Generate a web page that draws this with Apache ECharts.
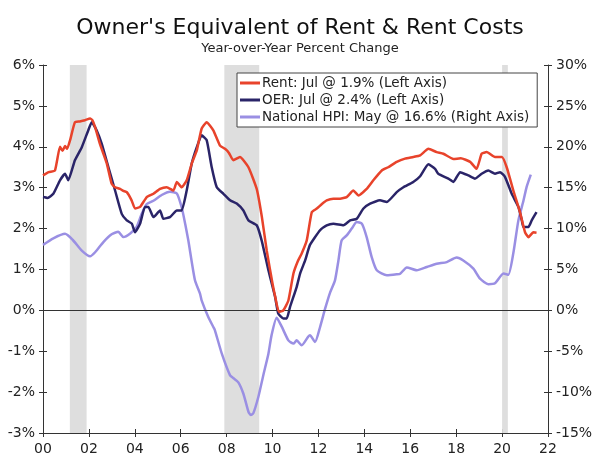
<!DOCTYPE html>
<html>
<head>
<meta charset="utf-8">
<title>Owner's Equivalent of Rent & Rent Costs</title>
<script src="https://cdn.jsdelivr.net/npm/echarts@6/dist/echarts.min.js"></script>
<style>
  html, body { margin: 0; padding: 0; background: #fff; }
  #chart { width: 600px; height: 460px; }
</style>
</head>
<body>
<div id="chart"></div>
<script>
// 数据
var rentDates = [2000.0, 2000.25, 2000.52, 2000.74, 2000.85, 2000.96, 2001.05, 2001.18, 2001.39, 2001.6, 2001.83, 2002.05, 2002.15, 2002.27, 2002.48, 2002.78, 2002.99, 2003.14, 2003.36, 2003.5, 2003.65, 2003.86, 2004.01, 2004.23, 2004.52, 2004.81, 2005.1, 2005.39, 2005.68, 2005.83, 2006.04, 2006.26, 2006.48, 2006.7, 2006.91, 2007.13, 2007.42, 2007.71, 2007.93, 2008.1, 2008.29, 2008.58, 2008.95, 2009.31, 2009.53, 2009.75, 2010.0, 2010.11, 2010.28, 2010.47, 2010.69, 2010.91, 2011.1, 2011.27, 2011.49, 2011.71, 2011.93, 2012.15, 2012.36, 2012.65, 2012.94, 2013.23, 2013.52, 2013.74, 2014.1, 2014.39, 2014.76, 2015.04, 2015.41, 2015.77, 2016.13, 2016.43, 2016.79, 2017.15, 2017.44, 2017.88, 2018.2, 2018.61, 2018.89, 2019.11, 2019.33, 2019.69, 2019.99, 2020.2, 2020.49, 2020.78, 2021.0, 2021.15, 2021.36, 2021.5];
var rentValues = [3.30, 3.38, 3.42, 4.00, 3.90, 4.02, 3.95, 4.16, 4.60, 4.62, 4.65, 4.69, 4.65, 4.48, 4.07, 3.59, 3.10, 3.01, 2.97, 2.92, 2.89, 2.69, 2.49, 2.53, 2.77, 2.85, 2.97, 3.01, 2.93, 3.14, 3.01, 3.18, 3.59, 3.91, 4.44, 4.60, 4.40, 4.03, 3.95, 3.85, 3.67, 3.75, 3.50, 2.97, 2.30, 1.45, 0.65, 0.35, -0.04, 0.00, 0.24, 0.90, 1.20, 1.39, 1.71, 2.40, 2.49, 2.60, 2.69, 2.73, 2.73, 2.77, 2.93, 2.81, 2.97, 3.18, 3.42, 3.50, 3.63, 3.71, 3.75, 3.79, 3.95, 3.87, 3.83, 3.70, 3.72, 3.63, 3.46, 3.83, 3.87, 3.75, 3.75, 3.50, 2.93, 2.40, 1.91, 1.79, 1.91, 1.90];

var oerDates = [2000.0, 2000.2, 2000.45, 2000.74, 2000.96, 2001.1, 2001.39, 2001.69, 2001.97, 2002.12, 2002.34, 2002.56, 2002.85, 2003.14, 2003.43, 2003.65, 2003.87, 2004.01, 2004.23, 2004.44, 2004.59, 2004.81, 2005.1, 2005.24, 2005.53, 2005.83, 2006.04, 2006.26, 2006.48, 2006.7, 2006.91, 2007.13, 2007.35, 2007.57, 2007.86, 2008.15, 2008.44, 2008.73, 2008.95, 2009.31, 2009.53, 2009.82, 2010.11, 2010.25, 2010.47, 2010.62, 2010.76, 2011.05, 2011.2, 2011.42, 2011.63, 2012.07, 2012.36, 2012.65, 2013.09, 2013.38, 2013.67, 2013.96, 2014.25, 2014.68, 2014.98, 2015.41, 2015.7, 2016.13, 2016.43, 2016.79, 2017.08, 2017.22, 2017.66, 2017.88, 2018.17, 2018.53, 2018.82, 2019.11, 2019.4, 2019.69, 2019.91, 2020.13, 2020.42, 2020.71, 2020.86, 2020.93, 2021.15, 2021.29, 2021.5];
var oerValues = [2.77, 2.75, 2.85, 3.18, 3.34, 3.18, 3.67, 3.99, 4.40, 4.60, 4.40, 4.07, 3.50, 2.93, 2.36, 2.20, 2.12, 1.91, 2.12, 2.53, 2.53, 2.28, 2.44, 2.24, 2.28, 2.44, 2.44, 2.93, 3.59, 3.99, 4.28, 4.16, 3.50, 3.01, 2.85, 2.69, 2.61, 2.44, 2.20, 2.08, 1.70, 0.98, 0.33, -0.08, -0.20, -0.20, 0.08, 0.57, 0.90, 1.22, 1.60, 1.96, 2.08, 2.12, 2.08, 2.20, 2.24, 2.49, 2.61, 2.69, 2.65, 2.89, 3.01, 3.14, 3.28, 3.57, 3.46, 3.34, 3.22, 3.14, 3.38, 3.30, 3.22, 3.34, 3.42, 3.34, 3.38, 3.26, 2.85, 2.53, 2.20, 2.04, 2.04, 2.20, 2.40];

var hpiDates = [2000.0, 2000.45, 2000.96, 2001.3, 2001.69, 2002.05, 2002.27, 2002.63, 2002.99, 2003.28, 2003.5, 2003.8, 2004.08, 2004.3, 2004.52, 2004.81, 2005.17, 2005.53, 2005.83, 2006.04, 2006.2, 2006.33, 2006.62, 2006.84, 2006.91, 2007.2, 2007.42, 2007.49, 2007.79, 2008.15, 2008.3, 2008.51, 2008.73, 2008.95, 2009.05, 2009.16, 2009.38, 2009.6, 2009.82, 2009.96, 2010.18, 2010.4, 2010.69, 2010.91, 2011.05, 2011.27, 2011.56, 2011.63, 2011.85, 2012.07, 2012.29, 2012.51, 2012.72, 2012.87, 2013.01, 2013.23, 2013.45, 2013.67, 2013.89, 2014.1, 2014.32, 2014.54, 2014.98, 2015.41, 2015.56, 2015.85, 2016.28, 2016.72, 2017.15, 2017.59, 2018.02, 2018.31, 2018.75, 2019.04, 2019.4, 2019.69, 2020.06, 2020.27, 2020.49, 2020.71, 2020.93, 2021.07, 2021.25];
var hpiValues = [8.0, 8.8, 9.35, 8.6, 7.3, 6.6, 7.1, 8.35, 9.3, 9.6, 8.96, 9.4, 10.2, 11.8, 13.0, 13.4, 14.1, 14.5, 14.3, 12.6, 10.5, 8.56, 3.67, 2.04, 1.22, -0.82, -2.04, -2.44, -5.3, -7.95, -8.3, -8.8, -10.2, -12.4, -12.8, -12.6, -10.6, -7.9, -5.3, -3.0, -0.9, -2.0, -3.67, -4.07, -3.67, -4.28, -3.2, -3.06, -3.87, -2.04, 0.2, 2.2, 3.67, 6.1, 8.56, 9.17, 10.0, 10.8, 10.6, 8.96, 6.5, 4.9, 4.28, 4.4, 4.48, 5.25, 4.9, 5.3, 5.7, 5.9, 6.45, 6.1, 5.1, 3.87, 3.2, 3.3, 4.5, 4.35, 7.0, 11.0, 13.4, 15.1, 16.6];

// 衰退期阴影
var recessions = [[2001.17, 2001.9], [2007.9, 2009.42], [2020.0, 2020.25]];

var seriesNames = ['Rent: Jul @ 1.9% (Left Axis)', 'OER: Jul @ 2.4% (Left Axis)', 'National HPI: May @ 16.6% (Right Axis)'];

var font = 'DejaVu Sans, Verdana, sans-serif';
var ink = '#222';

function pairs(xs, ys) {
  return xs.map(function (x, i) { return [x, ys[i]]; });
}

var chart = echarts.init(document.getElementById('chart'));

// 坐标轴刻度穿过轴线：外侧一组、内侧一组
function yAxisOf(pos, min, max, step, inside) {
  return {
    type: 'value',
    position: pos,
    min: min,
    max: max,
    interval: step,
    splitLine: { show: false },
    axisLine: { show: !inside, lineStyle: { color: '#333', width: 1 } },
    axisTick: { show: true, inside: inside, length: 4, lineStyle: { color: '#333' } },
    axisLabel: {
      show: !inside,
      margin: 8,
      color: ink,
      fontFamily: font,
      fontSize: 14,
      formatter: '{value}%'
    }
  };
}

function xAxisOf(inside) {
  return {
    type: 'value',
    min: 2000,
    max: 2022,
    interval: 2,
    position: 'bottom',
    splitLine: { show: false },
    axisLine: { show: !inside, onZero: false, lineStyle: { color: '#333', width: 1 } },
    axisTick: { show: true, inside: inside, length: 4, lineStyle: { color: '#333' } },
    axisLabel: {
      show: !inside,
      margin: 9,
      color: ink,
      fontFamily: font,
      fontSize: 14,
      formatter: function (v) { return String(v % 100).padStart(2, '0'); }
    }
  };
}

var option = {
  animation: false,
  backgroundColor: '#fff',
  title: {
    text: "Owner's Equivalent of Rent & Rent Costs",
    subtext: 'Year-over-Year Percent Change',
    left: 'center',
    top: 12,
    itemGap: 3,
    textStyle: { fontFamily: font, fontSize: 22, fontWeight: 'normal', color: '#111' },
    subtextStyle: { fontFamily: font, fontSize: 13, color: ink }
  },
  legend: {
    data: seriesNames,
    orient: 'vertical',
    left: 237,
    top: 73,
    padding: [3, 8, 3, 3],
    itemGap: 3,
    itemWidth: 20,
    itemHeight: 3,
    icon: 'rect',
    backgroundColor: '#fff',
    borderColor: '#444',
    borderWidth: 1,
    borderRadius: 0,
    textStyle: { fontFamily: font, fontSize: 13.5, color: ink, padding: [0, 0, 0, -3] }
  },
  grid: { left: 43, right: 52, top: 65, bottom: 27 },
  xAxis: [xAxisOf(false), xAxisOf(true)],
  yAxis: [
    yAxisOf('left', -3, 6, 1, false),
    yAxisOf('right', -15, 30, 5, false),
    yAxisOf('left', -3, 6, 1, true),
    yAxisOf('right', -15, 30, 5, true)
  ],
  series: [
    {
      type: 'line',
      name: 'recession',
      data: [],
      z: 1,
      silent: true,
      markArea: {
        silent: true,
        itemStyle: { color: '#dedede' },
        data: recessions.map(function (r) { return [{ xAxis: r[0] }, { xAxis: r[1] }]; })
      },
      markLine: {
        silent: true,
        symbol: 'none',
        label: { show: false },
        lineStyle: { color: '#333', width: 1, type: 'solid' },
        data: [{ yAxis: 0 }]
      }
    },
    {
      type: 'line',
      name: seriesNames[2],
      yAxisIndex: 1,
      data: pairs(hpiDates, hpiValues),
      showSymbol: false,
      smooth: 0.2,
      z: 3,
      lineStyle: { color: '#9a8fe3', width: 2.5 },
      itemStyle: { color: '#9a8fe3' }
    },
    {
      type: 'line',
      name: seriesNames[1],
      data: pairs(oerDates, oerValues),
      showSymbol: false,
      smooth: 0.15,
      z: 4,
      lineStyle: { color: '#2a2468', width: 2.5 },
      itemStyle: { color: '#2a2468' }
    },
    {
      type: 'line',
      name: seriesNames[0],
      data: pairs(rentDates, rentValues),
      showSymbol: false,
      smooth: 0.15,
      z: 5,
      lineStyle: { color: '#e8432b', width: 2.5 },
      itemStyle: { color: '#e8432b' }
    }
  ]
};

chart.setOption(option);
</script>
</body>
</html>
